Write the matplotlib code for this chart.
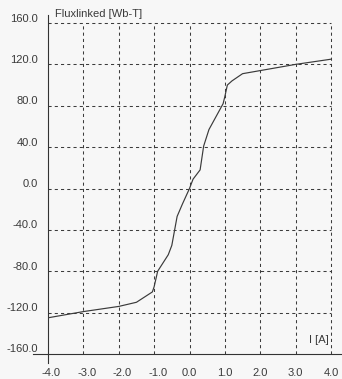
import matplotlib
matplotlib.use("Agg")
import matplotlib.pyplot as plt
from matplotlib.lines import Line2D
from matplotlib.transforms import offset_copy

current_A = [-4.0, -3.0, -2.0, -1.5, -1.05, -1.0, -0.9, -0.6, -0.5, -0.35, -0.2, 0.0,
             0.1, 0.3, 0.4, 0.55, 0.95, 1.0, 1.07, 1.2, 1.5, 3.0, 4.0]
flux = [-125, -119, -114, -110, -100, -95, -80, -64, -55, -27, -15, 0,
        9, 18, 41, 57, 82, 89, 100, 104, 111, 120, 125]

x_ticks = [-4.0, -3.0, -2.0, -1.0, 0.0, 1.0, 2.0, 3.0, 4.0]
y_ticks = [160.0, 120.0, 80.0, 40.0, 0.0, -40.0, -80.0, -120.0, -160.0]
y_title = "Fluxlinked [Wb-T]"
x_title = "I [A]"

W, H = 342, 379
bg = "#f7f7f7"
fig = plt.figure(figsize=(W / 100, H / 100), dpi=100, facecolor=bg)
ax = fig.add_axes([48 / W, (H - 354) / H, 283 / W, 331 / H])
ax.set_facecolor(bg)
ax.set_xlim(-4, 4)
ax.set_ylim(-160, 160)
for s in ax.spines.values():
    s.set_visible(False)
ax.set_xticks([])
ax.set_yticks([])

grid_kw = dict(color="#3c3c3c", lw=0.75, ls=(0, (3, 3)), zorder=1, clip_on=False)
for xv in x_ticks[1:]:
    ax.axvline(xv, **grid_kw)
for yv in y_ticks[:-1]:
    ax.axhline(yv, **grid_kw)

# axis lines extending beyond the grid box
axw, axh = 283, 331
ax.add_line(Line2D([-15 / axw, 1 + 11 / axw], [0, 0], transform=ax.transAxes,
                   color="#333333", lw=0.8, clip_on=False, zorder=3))
ax.add_line(Line2D([0, 0], [-9 / axh, 1 + 8 / axh], transform=ax.transAxes,
                   color="#333333", lw=0.8, clip_on=False, zorder=3))

ax.plot(current_A, flux, color="#3a3a3a", lw=0.85, zorder=4)

fs = 8
tc = "#3a3a3a"
fam = ["Liberation Sans", "DejaVu Sans"]
for yv in y_ticks:
    tr = offset_copy(ax.transData, fig=fig, x=-10, y=4.5, units="dots")
    ax.text(-4, yv, f"{yv:.1f}", transform=tr, ha="right", va="center",
            fontsize=fs, color=tc, family=fam, clip_on=False)
for xv in x_ticks:
    dx = 3.5 if xv < 0 else 0
    tr = offset_copy(ax.transData, fig=fig, x=dx, y=-19, units="dots")
    ax.text(xv, -160, f"{xv:.1f}", transform=tr, ha="center", va="center",
            fontsize=fs, color=tc, family=fam, clip_on=False)

fig.text(55 / W, 1 - 14 / H, y_title, ha="left", va="center", fontsize=fs,
         color=tc, family=fam)
fig.text(309 / W, 1 - 340 / H, x_title, ha="left", va="center", fontsize=fs,
         color=tc, family=fam, backgroundcolor="none")

fig.savefig("out.png", dpi=100, facecolor=bg)
